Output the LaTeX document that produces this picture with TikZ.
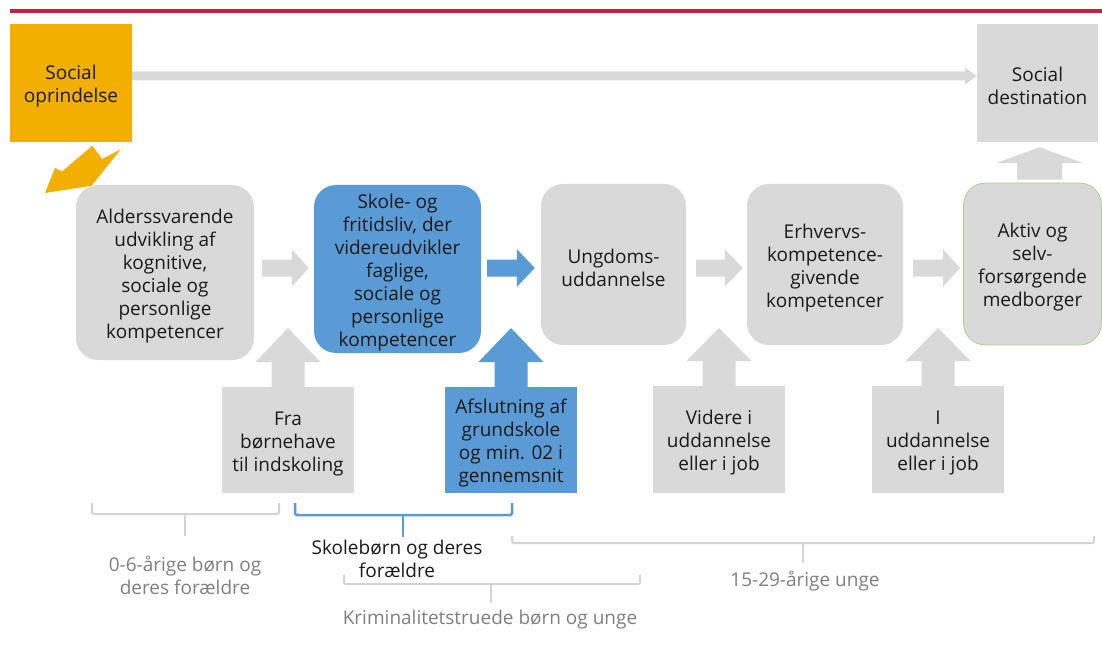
\documentclass[tikz,border=0pt]{standalone}
\usepackage{fontspec}
\setmainfont{Open Sans}
\usetikzlibrary{calc}
\definecolor{gbox}{HTML}{D9D9D9}
\definecolor{bbox}{HTML}{5B9BD5}
\definecolor{obox}{HTML}{F2AF00}
\definecolor{redline}{HTML}{C41F3B}
\definecolor{glab}{HTML}{7F7F7F}
\definecolor{gline}{HTML}{D3D3D3}
\definecolor{greenedge}{HTML}{A9D18E}
\definecolor{ink}{HTML}{1A1A1A}
\newcommand\fl{\rule{0pt}{21pt}}
% horizontal block arrow: from, to, fill, shaft half, head half, head length
\newcommand\harr[6]{%
  \fill[#3] let \p1=(#1), \p2=(#2) in
   (\x1,\y1+#4) -- (\x2-#6,\y1+#4) -- (\x2-#6,\y1+#5) -- (\x2,\y1)
   -- (\x2-#6,\y1-#5) -- (\x2-#6,\y1-#4) -- (\x1,\y1-#4) -- cycle;}
% vertical (upward) block arrow: from (bottom), to (tip), fill, shaft half, head half, head length
\newcommand\varr[6]{%
  \fill[#3] let \p1=(#1), \p2=(#2) in
   (\x1-#4,\y1) -- (\x1-#4,\y2-#6) -- (\x1-#5,\y2-#6) -- (\x1,\y2)
   -- (\x1+#5,\y2-#6) -- (\x1+#4,\y2-#6) -- (\x1+#4,\y1) -- cycle;}
\begin{document}
\begin{tikzpicture}[x=1pt,y=-1pt,
  txt/.style={font=\fontsize{19}{23}\selectfont, text=ink, align=center, inner sep=0pt},
  rbox/.style={txt, fill=gbox, rounded corners=22pt},
  lab/.style={font=\fontsize{19}{23}\selectfont, text=glab, align=center, inner sep=0pt},
  brk/.style={draw=gline, line width=2pt, rounded corners=1.5pt},
  bbrk/.style={draw=bbox, line width=2.5pt, rounded corners=1.5pt}]
\useasboundingbox (0,0) rectangle (1102,647);
% top red line
\draw[redline, line width=4pt] (10,11) -- (1102,11);

% top row
\node[txt, fill=obox, minimum width=122pt, minimum height=118pt] (orig) at (71,83) {\fl Social\\oprindelse};
\node[txt, fill=gbox, minimum width=121pt, minimum height=118pt] (dest) at (1037.5,83) {\fl Social\\destination};

% main row
\node[rbox, minimum width=178pt, minimum height=175pt] (alder) at (165,272.5)
  {\fl Alderssvarende\\udvikling af\\kognitive,\\sociale og\\personlige\\kompetencer};
\node[rbox, fill=bbox, minimum width=167pt, minimum height=168pt] (skole) at (397.5,269)
  {\fl Skole- og\\fritidsliv, der\\videreudvikler\\faglige,\\sociale og\\personlige\\kompetencer};
\node[rbox, minimum width=145pt, minimum height=161pt] (ungdom) at (613.5,264.5)
  {\fl Ungdoms-\\uddannelse};
\node[rbox, minimum width=156pt, minimum height=161pt] (erhverv) at (825,264.5)
  {\fl Erhvervs-\\kompetence-\\givende\\kompetencer};
\node[rbox, draw=greenedge, line width=0.8pt, minimum width=138pt, minimum height=162pt] (aktiv) at (1032.5,264)
  {\fl Aktiv og\\selv-\\forsørgende\\medborger};

% bottom row
\node[txt, fill=gbox, minimum width=132pt, minimum height=106pt] (fra) at (288,440)
  {\fl Fra\\børnehave\\til indskoling};
\node[txt, fill=bbox, minimum width=132pt, minimum height=106pt] (afsl) at (511,440)
  {\fl Afslutning af\\grundskole\\og min. 02 i\\gennemsnit};
\node[txt, fill=gbox, minimum width=132pt, minimum height=107pt] (videre) at (719,439.5)
  {\fl Videre i\\uddannelse\\eller i job};
\node[txt, fill=gbox, minimum width=132pt, minimum height=107pt] (iudd) at (938,439.5)
  {\fl I\\uddannelse\\eller i job};

% named points for arrows
\coordinate (mid) at (0,268);
\coordinate (top) at (0,76);
\coordinate (tipy) at (0,328);

% long top arrow
\harr{$(orig.east|-top)$}{$(dest.west|-top)$}{gbox}{4.5pt}{8.5pt}{12pt}
% horizontal arrows in main row
\harr{$(alder.east|-mid)+(8,0)$}{$(skole.west|-mid)+(-5,0)$}{gbox}{8.5pt}{18.5pt}{17pt}
\harr{$(skole.east|-mid)+(6,0)$}{$(ungdom.west|-mid)+(-6,0)$}{bbox}{8.5pt}{19pt}{18pt}
\harr{$(ungdom.east|-mid)+(10,0)$}{$(erhverv.west|-mid)+(-4,0)$}{gbox}{8.5pt}{18.5pt}{18pt}
\harr{$(erhverv.east|-mid)+(10,0)$}{$(aktiv.west|-mid)+(-3,0)$}{gbox}{8.5pt}{18.5pt}{17pt}
% upward arrows
\varr{fra.north}{fra.north|-tipy}{gbox}{16.5pt}{32.5pt}{34pt}
\varr{afsl.north}{afsl.north|-tipy}{bbox}{16.5pt}{32.5pt}{34pt}
\varr{videre.north}{videre.north|-tipy}{gbox}{16.5pt}{32.5pt}{33pt}
\varr{iudd.north}{iudd.north|-tipy}{gbox}{16.5pt}{32.5pt}{33pt}
\varr{$(aktiv.north-|dest.south)+(2,-3)$}{$(dest.south)+(2,5)$}{gbox}{22.5pt}{43.5pt}{16pt}

% orange bent arrow
\fill[obox] (45,193) -- (55,168) -- (62,171.5) -- (92.3,145.7) -- (102.3,159) -- (120.7,149.3) -- (91.7,185.7) -- cycle;

% brackets
\draw[brk] (92,503) -- (92,514) -- (279,514) -- (279,503);
\draw[brk] (185,514) -- (185,536);
\draw[bbrk] (295,503) -- (295,515) -- (512,515) -- (512,503);
\draw[bbrk] (403,515) -- (403,537);
\draw[brk] (512,536) -- (512,543) -- (1094,543) -- (1094,536);
\draw[brk] (803,543) -- (803,563);
\draw[brk] (344,575) -- (344,584) -- (640,584) -- (640,575);
\draw[brk] (491,584) -- (491,603);

% bracket labels
\node[lab] (l06) at (185,575.5) {0-6-årige børn og\\deres forældre};
\node[lab, text=ink] (lskole) at (397,559) {Skolebørn og deres\\forældre};
\node[lab] (l1529) at (805,581.5) {15-29-årige unge};
\node[lab] (lkrim) at (490,620) {Kriminalitetstruede børn og unge};
\end{tikzpicture}
\end{document}
